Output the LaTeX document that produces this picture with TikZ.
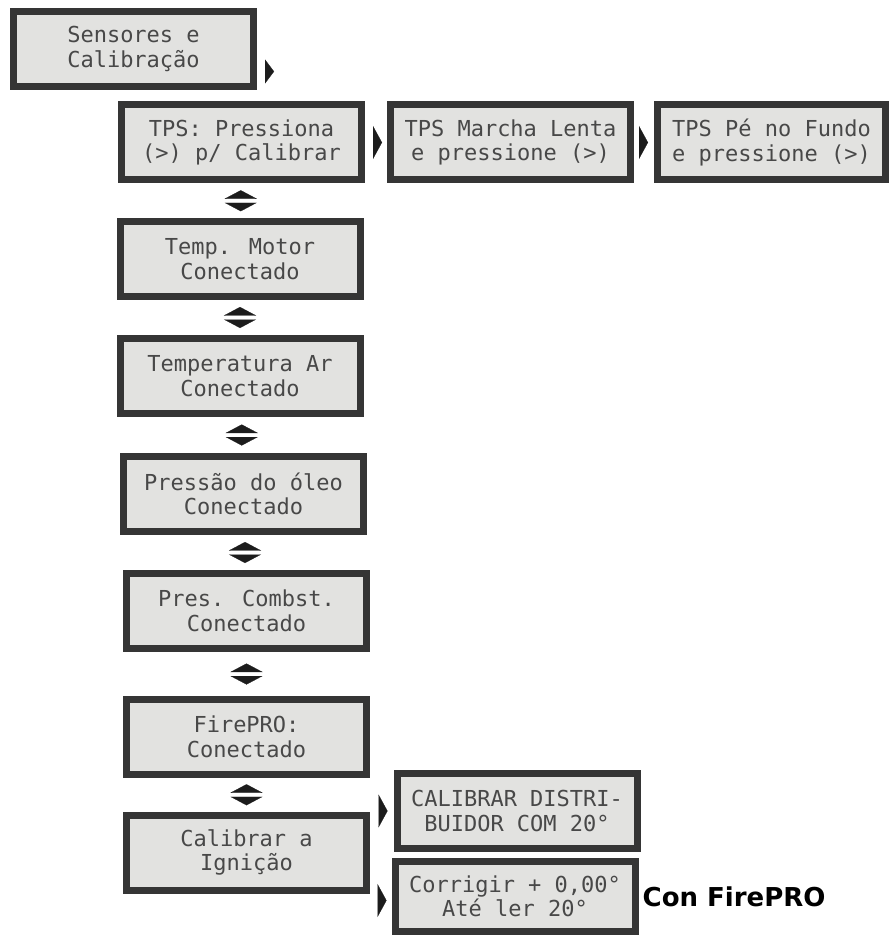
\documentclass[tikz,border=0pt]{standalone}
\usepackage{fontspec}
\usepackage{tikz}
\usetikzlibrary{arrows.meta,positioning,calc}
\newfontfamily\lcdfont{DejaVu Sans Mono}
\newfontfamily\notefont{DejaVu Sans}
\definecolor{LcdLight}{HTML}{E2E2E0}
\definecolor{LcdEdge}{HTML}{353535}
\definecolor{LcdInk}{HTML}{484848}
\definecolor{TipDark}{HTML}{1C1C1C}

\begin{document}
\begin{tikzpicture}[
  x=1pt, y=-1pt,
  node distance=22pt,
  lcd/.style={draw=LcdEdge, line width=7pt, fill=LcdLight, text=LcdInk, minimum width=240pt, minimum height=75pt, inner sep=0pt, align=center, font=\lcdfont\fontsize{22}{24.5}\selectfont},
  nav/.style={-{Triangle[length=9pt,width=#1,color=TipDark]}, draw=white, line width=0.2pt},
  nav/.default=33pt,
  updown/.style={{Triangle[length=8.5pt,width=32pt,color=TipDark]}-{Triangle[length=8.5pt,width=32pt,color=TipDark]}, draw=white, line width=0.2pt},
  note/.style={inner sep=0pt, font=\notefont\bfseries\fontsize{26}{30}\selectfont}
]
\useasboundingbox (0,0) rectangle (888,936);

% menu column
\node[lcd] (sens) at (133.5,49) {Sensores e\\Calibração};
\node[lcd] (tps) at (241.5,142.5) {TPS: Pressiona\\(>) p/ Calibrar};
\node[lcd, right=of tps] (lenta) {TPS Marcha Lenta\\e pressione (>)};
\node[lcd, right=20pt of lenta, minimum width=228pt] (fundo) {TPS Pé no Fundo\\e pressione (>)};
\node[lcd] (tmotor) at (240,259) {Temp. Motor\\Conectado};
\node[lcd] (tar) at (240,376) {Temperatura Ar\\Conectado};
\node[lcd] (oleo) at (243.5,494) {Pressão do óleo\\Conectado};
\node[lcd] (comb) at (246.5,611) {Pres. Combst.\\Conectado};
\node[lcd] (fire) at (246.5,737) {FirePRO:\\Conectado};
\node[lcd] (ign) at (246.5,852.5) {Calibrar a\\Ignição};

% ignition screens
\node[lcd] (distri) at (517,811) {CALIBRAR DISTRI-\\BUIDOR COM 20°};
\node[lcd, minimum height=70pt] (corr) at (515,896.5) {Corrigir + 0,00°\\Até ler 20°};
\node[note, right=4pt of corr] (firenote) {Con FirePRO};

% right keys
\draw[nav=24pt, shorten <=8pt] ($(sens.east)+(0,22.5)$) -- ++(17,0);
\draw[nav, shorten <=8pt, shorten >=5pt] (tps) -- (lenta);
\draw[nav, shorten <=4pt, shorten >=6pt] (lenta) -- (fundo);
\draw[nav, shorten <=8pt, shorten >=6pt] (ign.east |- distri.west) -- (distri.west);
\draw[nav, shorten <=8pt, shorten >=5pt] ($(ign.east |- corr.west)+(0,4)$) -- ($(corr.west)+(0,4)$);

% up/down keys
\foreach \a/\b in {tps/tmotor, tmotor/tar, tar/oleo, oleo/comb, comb/fire, fire/ign}
  \draw[updown] ($(\a.south)!.5!(\b.north)+(0,-10.5)$) -- ($(\a.south)!.5!(\b.north)+(0,10.5)$);
\end{tikzpicture}
\end{document}
